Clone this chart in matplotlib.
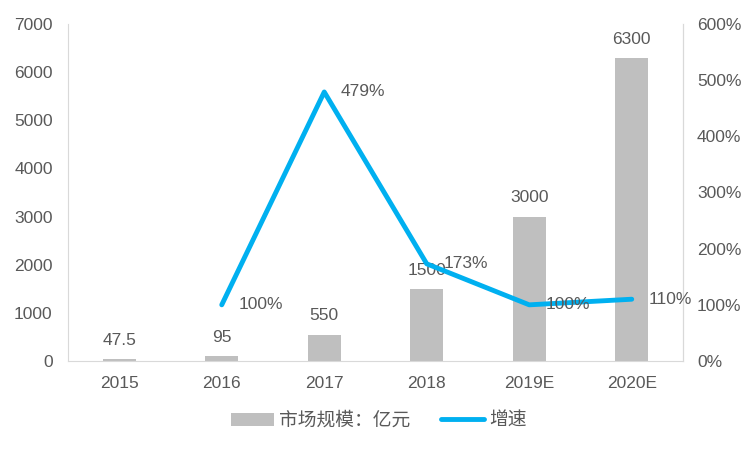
import matplotlib
matplotlib.use("Agg")
import matplotlib.pyplot as plt
from matplotlib.ticker import FuncFormatter

plt.rcParams['font.family'] = ['Liberation Sans', 'Noto Sans CJK SC', 'DejaVu Sans']

categories = ['2015', '2016', '2017', '2018', '2019E', '2020E']
market_size = [47.5, 95, 550, 1500, 3000, 6300]
size_labels = ['47.5', '95', '550', '1500', '3000', '6300']
growth = [None, 1.00, 4.79, 1.73, 1.00, 1.10]
growth_labels = [None, '100%', '479%', '173%', '100%', '110%']

gray_text = '#595959'
axis_col = '#D9D9D9'
bar_col = '#BFBFBF'
line_col = '#00B0F0'
fs = 12.5

fig = plt.figure(figsize=(7.5, 4.5), dpi=100)
ax = fig.add_axes([68/750, 1-361/450, (683-68)/750, (361-24)/450])
x = list(range(len(categories)))
bars = ax.bar(x, market_size, width=0.32, color=bar_col, label='市场规模：亿元', zorder=2)
ax.set_xlim(-0.5, len(categories)-0.5)
ax.set_ylim(0, 7000)
ax.set_yticks(range(0, 7001, 1000))
ax.set_xticks(x)
ax.set_xticklabels(categories)
ax.spines['top'].set_visible(False)
for s in ['left', 'bottom', 'right']:
    ax.spines[s].set_color(axis_col)
ax.tick_params(axis='both', length=0, colors=gray_text, labelsize=fs)
ax.tick_params(axis='x', pad=11)
ax.tick_params(axis='y', pad=11)

for xi, v, lab in zip(x, market_size, size_labels):
    ax.annotate(lab, (xi, v), xytext=(0, 8), textcoords='offset points',
                ha='center', va='bottom', color=gray_text, fontsize=fs, zorder=5)

ax2 = ax.twinx()
ax2.set_ylim(0, 6)
ax2.set_yticks(range(0, 7))
ax2.yaxis.set_major_formatter(FuncFormatter(lambda v, p: f'{int(round(v*100))}%'))
for s in ['top', 'left', 'bottom']:
    ax2.spines[s].set_visible(False)
ax2.spines['right'].set_color(axis_col)
ax2.tick_params(axis='y', length=0, colors=gray_text, labelsize=fs, pad=10)

gx = [xi for xi, g in zip(x, growth) if g is not None]
gy = [g for g in growth if g is not None]
line, = ax2.plot(gx, gy, color=line_col, linewidth=3.5, label='增速', zorder=3,
                 solid_capstyle='round', solid_joinstyle='round')
for xi, g, lab in zip(x, growth, growth_labels):
    if g is None:
        continue
    ax2.annotate(lab, (xi, g), xytext=(12, 0), textcoords='offset points',
                 ha='left', va='center', color=gray_text, fontsize=fs, zorder=6)

fig.legend([bars, line], ['市场规模：亿元', '增速'], loc='center', bbox_to_anchor=(0.505, 1-421/450),
           ncol=2, frameon=False, fontsize=13.5, labelcolor=gray_text,
           handlelength=2.3, handletextpad=0.3, columnspacing=1.6)

fig.savefig('out.png', dpi=100)
